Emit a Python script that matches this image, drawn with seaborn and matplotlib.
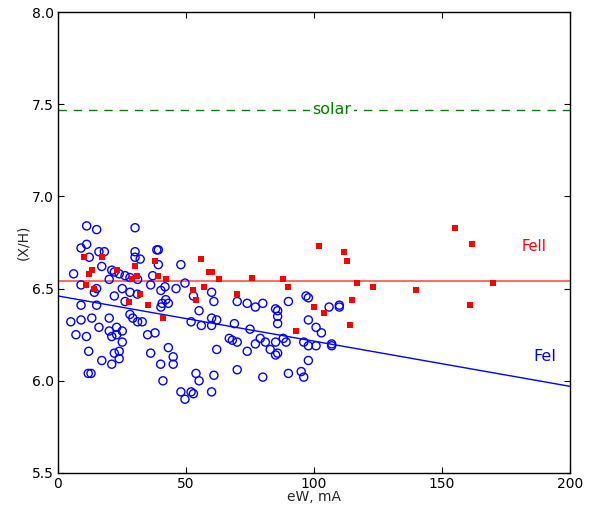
import numpy as np
import pandas as pd
import matplotlib
matplotlib.use("Agg")
import matplotlib.pyplot as plt
import seaborn as sns

# FeI lines: equivalent width (mA) and abundance
fe1_ew = [11.2, 15.1, 30.1, 9.0, 11.2, 16.0, 18.1, 30.1, 30.1, 12.2, 32.1, 38.6, 39.2, 39.2, 48.0,
          17.1, 6.1, 21.0, 22.0, 23.9, 26.2, 28.1, 20.0, 37.0, 31.1, 9.0, 36.2, 15.1, 14.2, 25.1,
          28.1, 31.0, 41.8, 40.2, 46.1, 49.6, 22.0, 26.2, 42.1, 40.7, 40.2, 43.1, 9.0, 15.1, 28.1,
          29.2, 31.1, 32.9, 5.0, 9.0, 13.2, 20.0, 16.0, 22.9, 20.0, 21.0, 22.9, 25.1, 7.0, 11.1,
          35.0, 37.9, 25.1, 12.0, 22.0, 23.9, 23.9, 17.1, 21.0, 36.2, 43.1, 45.0, 45.0, 40.1, 11.8,
          12.9, 41.0, 48.0, 49.6, 60.0, 52.9, 60.9, 55.1, 70.0, 73.9, 77.1, 80.0, 85.0, 85.8, 85.8,
          85.8, 90.0, 96.9, 97.8, 97.8, 52.0, 56.0, 60.0, 62.0, 60.0, 68.9, 75.0, 66.9, 68.1, 70.0,
          79.0, 81.0, 77.1, 85.0, 88.0, 89.1, 96.0, 97.8, 62.0, 73.9, 82.9, 85.8, 85.0, 97.8, 53.9,
          55.1, 60.9, 70.0, 80.0, 90.0, 95.0, 96.0, 52.0, 52.9, 60.0, 100.8, 102.9, 105.9, 109.9,
          109.9, 100.8, 106.9, 106.9]
fe1_ab = [6.84, 6.82, 6.83, 6.72, 6.74, 6.70, 6.70, 6.70, 6.67, 6.67, 6.66, 6.71, 6.71, 6.63, 6.63,
          6.62, 6.58, 6.60, 6.59, 6.58, 6.57, 6.56, 6.55, 6.57, 6.55, 6.52, 6.52, 6.50, 6.48, 6.50,
          6.48, 6.47, 6.51, 6.49, 6.50, 6.53, 6.46, 6.43, 6.44, 6.42, 6.40, 6.42, 6.41, 6.41, 6.36,
          6.34, 6.32, 6.32, 6.32, 6.33, 6.34, 6.34, 6.29, 6.29, 6.27, 6.24, 6.25, 6.27, 6.25, 6.24,
          6.25, 6.26, 6.21, 6.16, 6.15, 6.16, 6.12, 6.11, 6.09, 6.15, 6.18, 6.13, 6.09, 6.09, 6.04,
          6.04, 6.00, 5.94, 5.90, 6.48, 6.46, 6.43, 6.38, 6.43, 6.42, 6.40, 6.42, 6.39, 6.38, 6.35,
          6.31, 6.43, 6.46, 6.45, 6.33, 6.32, 6.30, 6.34, 6.33, 6.30, 6.31, 6.28, 6.23, 6.22, 6.21,
          6.23, 6.21, 6.20, 6.21, 6.23, 6.21, 6.21, 6.19, 6.17, 6.16, 6.17, 6.15, 6.14, 6.11, 6.04,
          6.00, 6.03, 6.06, 6.02, 6.04, 6.05, 6.02, 5.94, 5.93, 5.94, 6.29, 6.26, 6.40, 6.41,
          6.40, 6.19, 6.20, 6.19]

# FeII lines
fe2_ew = [10.2, 17.1, 13.2, 12.1, 23.0, 30.1, 38.0, 10.9, 14.2, 29.0, 31.0, 39.2, 42.1, 32.0,
          27.9, 35.0, 41.0, 56.0, 59.0, 60.0, 63.0, 52.9, 57.0, 53.9, 70.0, 75.9, 88.0, 90.0,
          93.0, 102.0, 111.8, 112.9, 116.9, 114.8, 122.9, 100.0, 103.9, 113.9, 139.8, 155.0,
          161.8, 160.9, 169.9]
fe2_ab = [6.67, 6.67, 6.60, 6.58, 6.60, 6.62, 6.65, 6.52, 6.50, 6.55, 6.57, 6.57, 6.55, 6.47,
          6.43, 6.41, 6.34, 6.66, 6.59, 6.59, 6.55, 6.49, 6.51, 6.44, 6.47, 6.56, 6.55, 6.51,
          6.27, 6.73, 6.70, 6.65, 6.53, 6.44, 6.51, 6.40, 6.37, 6.30, 6.49, 6.83, 6.74, 6.41,
          6.53]

# fitted trends and reference level
fe1_fit = (6.46, -0.00245)   # intercept, slope
fe2_mean = 6.54
solar = 7.47
fit_x = [0, 200]

xticks = [0, 50, 100, 150, 200]
yticks = [5.5, 6.0, 6.5, 7.0, 7.5, 8.0]

sns.set_style("ticks")
plt.rcParams.update({
    "font.family": ["DejaVu Sans"],
    "xtick.direction": "in", "ytick.direction": "in",
    "xtick.top": True, "ytick.right": True,
    "xtick.major.size": 4, "ytick.major.size": 4,
    "xtick.major.pad": 3, "ytick.major.pad": 3,
    "axes.edgecolor": "black", "axes.linewidth": 1.0,
    "xtick.color": "black", "ytick.color": "black",
})

fig = plt.figure(figsize=(5.95, 5.07), dpi=100)
ax = fig.add_axes([58/595, 1 - 473/507, 512/595, 461/507])

df1 = pd.DataFrame({"ew": fe1_ew, "ab": fe1_ab})
df2 = pd.DataFrame({"ew": fe2_ew, "ab": fe2_ab})

sns.scatterplot(data=df1, x="ew", y="ab", ax=ax, marker="o", s=34,
                color="blue", facecolors="none", edgecolors="blue", linewidth=1.0, zorder=3)
sns.scatterplot(data=df2, x="ew", y="ab", ax=ax, marker="s", s=22,
                color="red", linewidth=0, zorder=4)

fx = np.array(fit_x, dtype=float)
sns.lineplot(x=fx, y=fe1_fit[0] + fe1_fit[1] * fx, ax=ax, color="blue", linewidth=1.0, zorder=2)
sns.lineplot(x=fx, y=[fe2_mean, fe2_mean], ax=ax, color="#ff5050", linewidth=1.2, zorder=2)
sns.lineplot(x=fx, y=[solar, solar], ax=ax, color="green", linewidth=1.0,
             linestyle=(0, (6, 5)), zorder=2)

ax.text(107, solar, "solar", color="green", fontsize=11.5, ha="center", va="center",
        bbox=dict(facecolor="white", edgecolor="none", pad=2), zorder=5)
ax.text(186, 6.73, "FeII", color="red", fontsize=10.5, ha="center", va="center")
ax.text(190, 6.13, "FeI", color="blue", fontsize=11.5, ha="center", va="center")

ax.set_xlim(0, 200)
ax.set_ylim(5.5, 8.0)
ax.set_xticks(xticks)
ax.set_yticks(yticks)
ax.set_xticklabels([str(t) for t in xticks], fontsize=10)
ax.set_yticklabels([f"{t:.1f}" for t in yticks], fontsize=10)
ax.set_xlabel("eW, mA", fontsize=10, labelpad=-1)
ax.set_ylabel("(X/H)", fontsize=10, labelpad=1)
for s in ax.spines.values():
    s.set_visible(True)

fig.savefig("out.png", dpi=100)
